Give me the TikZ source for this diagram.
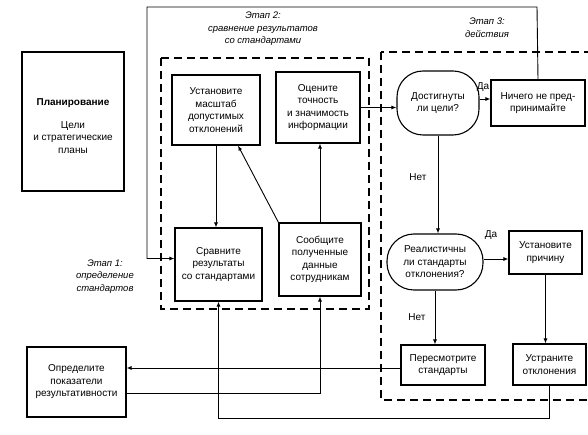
\documentclass[tikz,border=0pt]{standalone}
\usepackage{fontspec}
\setmainfont{Liberation Sans}
\usetikzlibrary{arrows.meta}
\begin{document}
\begin{tikzpicture}[x=1pt,y=-1pt,
  box/.style={draw, line width=1.1pt, align=center, inner sep=2pt, font=\fontsize{10}{12.5}\selectfont},
  stad/.style={box, rounded corners=26pt},
  arr/.style={line width=0.9pt, -{Latex[length=5pt,width=4pt]}},
  frame/.style={line width=1.1pt, dash pattern=on 8pt off 5pt},
  txt/.style={align=center, font=\fontsize{10}{12.5}\selectfont},
  lab/.style={font=\fontsize{9.5}{12.5}\selectfont\itshape, align=center},
  yn/.style={font=\fontsize{10}{12}\selectfont}]
\clip (0,0) rectangle (588,435);
\fill[white] (0,0) rectangle (588,435);
% dashed frames
\draw[frame] (161,58) rectangle (369,309);
\draw[frame] (381,52) rectangle (600,400);
% boxes
\node[box, minimum width=102pt, minimum height=139pt] (plan) at (73,121.5) {};
\node[txt] (plantxt) at (73,126)
  {\textbf{Планирование}\\[10pt]Цели\\и стратегические\\планы};
\node[box, minimum width=88pt, minimum height=70pt] (ustm) at (216,110)
  {Установите\\масштаб\\допустимых\\отклонений};
\node[box, minimum width=84pt, minimum height=71pt] (ocen) at (318,107.5)
  {Оцените\\точность\\и значимость\\информации};
\node[stad, minimum width=82pt, minimum height=64pt] (dost) at (438,103)
  {Достигнуты\\ли цели?};
\node[box, minimum width=94pt, minimum height=46pt] (nich) at (538,103)
  {Ничего не пред-\\принимайте};
\node[box, minimum width=87pt, minimum height=73pt] (srav) at (218.5,264.5)
  {Сравните\\результаты\\со стандартами};
\node[box, minimum width=82pt, minimum height=73pt] (soob) at (320,259.5)
  {Сообщите\\полученные\\данные\\сотрудникам};
\node[stad, rounded corners=27pt, minimum width=96pt, minimum height=56pt] (real) at (435,262)
  {Реалистичны\\ли стандарты\\отклонения?};
\node[box, minimum width=73pt, minimum height=43pt] (prich) at (545.5,252.5)
  {Установите\\причину};
\node[box, minimum width=84pt, minimum height=40pt] (pere) at (443,365)
  {Пересмотрите\\стандарты};
\node[box, minimum width=73pt, minimum height=41pt] (ustr) at (549.5,364.5)
  {Устраните\\отклонения};
\node[box, minimum width=99pt, minimum height=70pt] (opr) at (76.5,382)
  {Определите\\показатели\\результативности};
% stage labels
\node[lab] (s2) at (263,29) {Этап 2:\\сравнение результатов\\со стандартами};
\node[lab] (s3) at (487,27.5) {Этап 3:\\действия};
\node[lab] (s1) at (105,276.5) {Этап 1:\\определение\\стандартов};
% yes/no labels
\node[yn] (da1) at (483,87) {Да};
\node[yn] (net1) at (418,177) {Нет};
\node[yn] (da2) at (491,235) {Да};
\node[yn] (net2) at (417,317) {Нет};
% coordinates
\coordinate (tr) at (537,7);
\coordinate (tl) at (147,7);
\coordinate (br) at (549.5,418);
% connectors
\draw[arr] (ustm.south) -- (ustm.south |- srav.north);
\draw[arr] (soob.north west) -- ([xshift=22pt]ustm.south);
\draw[arr] (soob.north) -- (soob.north |- ocen.south);
\draw[arr] (ocen.east) -- (ocen.east -| dost.west);
\draw[arr] ([yshift=4pt]dost.east) -- ([yshift=4pt]dost.east -| nich.west);
\draw[arr] (dost.south) -- (dost.south |- real.north);
\draw[arr] ([yshift=3pt]real.east) -- ([yshift=3pt]real.east -| prich.west);
\draw[arr] (real.south) -- (real.south |- pere.north);
\draw[arr] (prich.south) -- (prich.south |- ustr.north);
\draw[arr] ([yshift=-3pt]pere.west) -- ([yshift=-3pt]pere.west -| opr.east);
\draw[arr] ([yshift=-11pt]opr.east) -| (soob.south);
\draw[arr] (ustr.south) -- (br) -| (srav.south);
\draw[arr] (nich.north) -- (tr) -- (tl) |- ([yshift=6pt]srav.west);
\end{tikzpicture}
\end{document}
